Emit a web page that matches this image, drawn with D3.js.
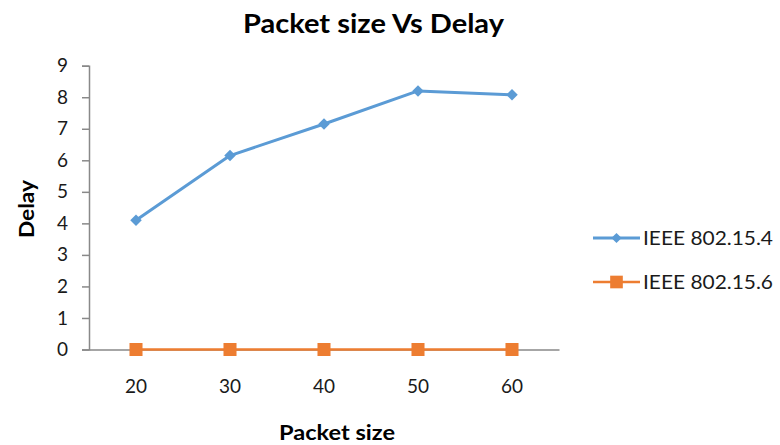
<!DOCTYPE html>
<html>
<head>
<meta charset="utf-8">
<script src="https://cdn.jsdelivr.net/npm/d3@7"></script>
<style>
  html, body { margin: 0; padding: 0; background: #fff; }
  svg { display: block; font-family: Lato, "Open Sans", sans-serif; }
</style>
</head>
<body>
<svg id="chart" width="780" height="445"></svg>
<script>
// Packet size categories and mean delay per protocol
const packetSizes = ["20", "30", "40", "50", "60"];
const delay154 = [4.1, 6.15, 7.15, 8.2, 8.08];
const delay156 = [0, 0, 0, 0, 0];
const seriesNames = ["IEEE 802.15.4", "IEEE 802.15.6"];
const yTicks = [0, 1, 2, 3, 4, 5, 6, 7, 8, 9];

const colors = ["#5B9BD5", "#ED7D31"];
const axisColor = "#898989";
const textColor = "#1a1a1a";

const svg = d3.select("#chart");
const plot = { left: 89, right: 559, top: 65.7, bottom: 349.5 };

const x = d3.scaleBand().domain(packetSizes).range([plot.left, plot.right]);
const xc = c => x(c) + x.bandwidth() / 2;
const y = d3.scaleLinear().domain([0, 9]).range([plot.bottom, plot.top]);

// Y axis
const yAxis = svg.append("g")
  .attr("transform", `translate(${plot.left},0)`)
  .call(d3.axisLeft(y).tickValues(yTicks).tickSize(7).tickPadding(14).tickFormat(d3.format("d")));
yAxis.select(".domain").attr("stroke", axisColor).attr("stroke-width", 1.5);
yAxis.selectAll(".tick line").attr("stroke", axisColor).attr("stroke-width", 1.5);
yAxis.selectAll(".tick text").attr("fill", textColor).style("font-size", "19px").style("font-family", "Lato, sans-serif");

// X axis
const xAxis = svg.append("g")
  .attr("transform", `translate(0,${plot.bottom})`)
  .call(d3.axisBottom(x).tickSize(0).tickPadding(30));
xAxis.select(".domain").attr("stroke", axisColor).attr("stroke-width", 1.5);
xAxis.selectAll(".tick text").attr("fill", textColor).style("font-size", "19px").style("font-family", "Lato, sans-serif");

const series = [
  { name: seriesNames[0], values: delay154, color: colors[0], shape: "diamond" },
  { name: seriesNames[1], values: delay156, color: colors[1], shape: "square" }
];

const line = d3.line().x(d => xc(d.c)).y(d => y(d.v));

function marker(g, shape, color, diamondSize, squareSize) {
  if (shape === "diamond") {
    g.append("path")
      .attr("d", d3.symbol(d3.symbolSquare, diamondSize)())
      .attr("transform", "rotate(45)")
      .attr("fill", color);
  } else {
    g.append("path")
      .attr("d", d3.symbol(d3.symbolSquare, squareSize)())
      .attr("fill", color);
  }
}

series.forEach(s => {
  const pts = packetSizes.map((c, i) => ({ c, v: s.values[i] }));
  svg.append("path")
    .datum(pts)
    .attr("d", line)
    .attr("fill", "none")
    .attr("stroke", s.color)
    .attr("stroke-width", s.shape === "diamond" ? 3 : 2.5)
    .attr("stroke-linejoin", "round");
  pts.forEach(p => {
    const g = svg.append("g").attr("transform", `translate(${xc(p.c)},${y(p.v)})`);
    marker(g, s.shape, s.color, 66, 170);
  });
});

// Legend
const legendY = [238, 282];
series.forEach((s, i) => {
  const g = svg.append("g").attr("transform", `translate(593,${legendY[i]})`);
  g.append("line").attr("x1", 0).attr("x2", 47).attr("y1", 0).attr("y2", 0)
    .attr("stroke", s.color).attr("stroke-width", s.shape === "diamond" ? 3 : 2.5);
  const m = g.append("g").attr("transform", "translate(23.5,0)");
  marker(m, s.shape, s.color, 52, 160);
  g.append("text").attr("x", 50).attr("y", 7)
    .attr("fill", textColor).style("font-size", "20px")
    .attr("textLength", 130).attr("lengthAdjust", "spacingAndGlyphs")
    .text(s.name);
});

// Titles
svg.append("text")
  .attr("x", 373.5).attr("y", 33)
  .attr("text-anchor", "middle")
  .style("font-size", "26px").style("font-weight", "bold")
  .attr("textLength", 261).attr("lengthAdjust", "spacingAndGlyphs")
  .attr("fill", "#000")
  .text("Packet size Vs Delay");

svg.append("text")
  .attr("x", 337).attr("y", 440)
  .attr("text-anchor", "middle")
  .style("font-size", "21px").style("font-weight", "bold")
  .attr("textLength", 116).attr("lengthAdjust", "spacingAndGlyphs")
  .attr("fill", "#000")
  .text("Packet size");

svg.append("text")
  .attr("transform", "translate(34,209) rotate(-90)")
  .attr("text-anchor", "middle")
  .style("font-size", "21px").style("font-weight", "bold")
  .attr("textLength", 58).attr("lengthAdjust", "spacingAndGlyphs")
  .attr("fill", "#000")
  .text("Delay");
</script>
</body>
</html>
